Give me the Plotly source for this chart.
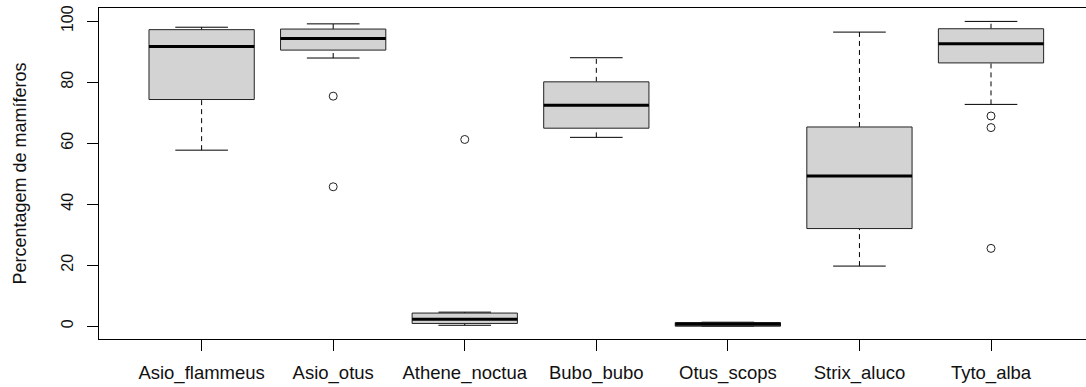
import plotly.graph_objects as go

categories = ["Asio_flammeus", "Asio_otus", "Athene_noctua", "Bubo_bubo",
              "Otus_scops", "Strix_aluco", "Tyto_alba"]
lower_whisker = [57.7, 87.9, 0.3, 61.9, 0.0, 19.7, 72.7]
q1 = [74.3, 90.5, 0.9, 64.9, 0.0, 32.0, 86.3]
median = [91.7, 94.3, 2.3, 72.4, 0.6, 49.2, 92.6]
q3 = [97.2, 97.4, 4.3, 80.1, 1.2, 65.3, 97.5]
upper_whisker = [98.0, 99.1, 4.6, 88.0, 1.3, 96.4, 99.9]
outliers = {
    "Asio_otus": [75.4, 45.7],
    "Athene_noctua": [61.2],
    "Tyto_alba": [68.9, 65.1, 25.5],
}

BOX_HALF = 0.4
CAP_HALF = 0.2
FONT = "Liberation Sans, Arial, sans-serif"

fig = go.Figure()

wx, wy, cx, cy, bx, by, mx, my = [], [], [], [], [], [], [], []
for i, cat in enumerate(categories):
    x = i + 1
    wx += [x, x, None, x, x, None]
    wy += [lower_whisker[i], q1[i], None, q3[i], upper_whisker[i], None]
    cx += [x - CAP_HALF, x + CAP_HALF, None, x - CAP_HALF, x + CAP_HALF, None]
    cy += [lower_whisker[i], lower_whisker[i], None, upper_whisker[i], upper_whisker[i], None]
    bx += [x - BOX_HALF, x + BOX_HALF, x + BOX_HALF, x - BOX_HALF, x - BOX_HALF, None]
    by += [q1[i], q1[i], q3[i], q3[i], q1[i], None]
    mx += [x - BOX_HALF, x + BOX_HALF, None]
    my += [median[i], median[i], None]

fig.add_trace(go.Scatter(x=wx, y=wy, mode="lines",
                         line=dict(color="black", width=1, dash="5px,4px"),
                         hoverinfo="skip", showlegend=False))
fig.add_trace(go.Scatter(x=cx, y=cy, mode="lines",
                         line=dict(color="black", width=1),
                         hoverinfo="skip", showlegend=False))
fig.add_trace(go.Scatter(x=bx, y=by, mode="lines", fill="toself",
                         fillcolor="#d3d3d3",
                         line=dict(color="#222222", width=1),
                         hoverinfo="skip", showlegend=False))
fig.add_trace(go.Scatter(x=mx, y=my, mode="lines",
                         line=dict(color="black", width=3),
                         hoverinfo="skip", showlegend=False))

ox, oy = [], []
for cat, vals in outliers.items():
    idx = categories.index(cat) + 1
    for v in vals:
        ox.append(idx)
        oy.append(v)
fig.add_trace(go.Scatter(x=ox, y=oy, mode="markers",
                         marker=dict(symbol="circle-open", size=8,
                                     color="#222222", line=dict(width=1)),
                         hoverinfo="skip", showlegend=False))

fig.update_layout(
    width=1086, height=387,
    margin=dict(l=99, r=0, t=8, b=48),
    paper_bgcolor="white", plot_bgcolor="white",
    font=dict(family=FONT, color="#111111"),
    xaxis=dict(
        range=[0.22, 7.722],
        tickmode="array", tickvals=list(range(1, len(categories) + 1)),
        ticktext=categories,
        ticks="outside", ticklen=11, tickcolor="black", tickwidth=1,
        showline=True, linecolor="black", linewidth=1, mirror=True,
        showgrid=False, zeroline=False,
        ticklabelstandoff=6,
        tickfont=dict(size=18.5, family=FONT, color="#111111"),
    ),
    yaxis=dict(
        range=[-4.2, 104.3],
        tickmode="array", tickvals=[0, 20, 40, 60, 80, 100],
        ticks="outside", ticklen=11, tickcolor="black", tickwidth=1,
        showline=True, linecolor="black", linewidth=1,
        showgrid=False, zeroline=False,
        tickangle=-90,
        ticklabelstandoff=8,
        tickfont=dict(size=16, family=FONT, color="#111111"),
        title=dict(text="Percentagem de mamíferos",
                   font=dict(size=18, family=FONT, color="#111111"),
                   standoff=27),
    ),
)

fig.write_html("out.html")
